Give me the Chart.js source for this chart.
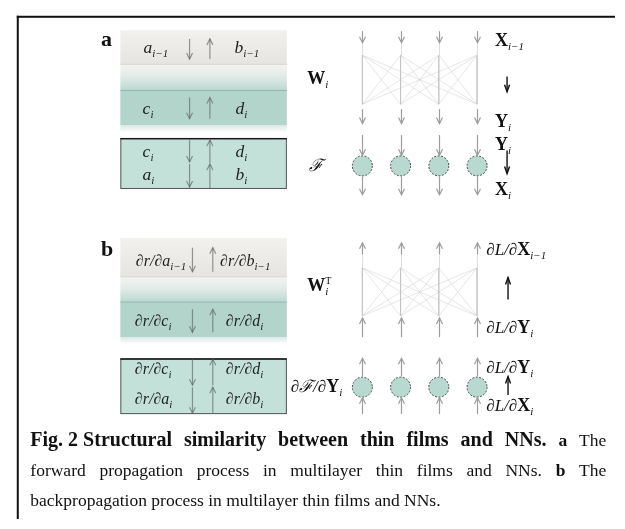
<!DOCTYPE html>
<html>
<head>
<meta charset="utf-8">
<script src="https://cdn.jsdelivr.net/npm/chart.js@4.4.1/dist/chart.umd.min.js"></script>
<style>
  html, body { margin: 0; padding: 0; background: #fff; }
  #wrap { width: 625px; height: 529px; }
</style>
</head>
<body>
<div id="wrap"><canvas id="chartFig2" width="625" height="529"></canvas></div>
<script>
// datos del diagrama
const panelLetters = ['a', 'b'];
const neurons = [1, 2, 3, 4];
const filmRowsForward = [
  ['a', 'i−1', 'b', 'i−1'],
  ['c', 'i', 'd', 'i'],
  ['c', 'i', 'd', 'i'],
  ['a', 'i', 'b', 'i']
];
const filmRowsBackward = [
  ['∂r/∂a', 'i−1', '∂r/∂b', 'i−1'],
  ['∂r/∂c', 'i', '∂r/∂d', 'i'],
  ['∂r/∂c', 'i', '∂r/∂d', 'i'],
  ['∂r/∂a', 'i', '∂r/∂b', 'i']
];
const nnLabelsForward = [['', 'X', 'i−1'], ['', 'Y', 'i'], ['', 'Y', 'i'], ['', 'X', 'i']];
const nnLabelsBackward = [['∂L/∂', 'X', 'i−1'], ['∂L/∂', 'Y', 'i'], ['∂L/∂', 'Y', 'i'], ['∂L/∂', 'X', 'i']];
// estilo de palabra: 2 = titulo en negrita, 1 = letra de panel en negrita, 0 = normal
const captionLines = [
  [['Fig. 2 Structural', 2], ['similarity', 2], ['between', 2], ['thin', 2], ['films', 2], ['and', 2], ['NNs.', 2], ['a', 1], ['The', 0]],
  [['forward', 0], ['propagation', 0], ['process', 0], ['in', 0], ['multilayer', 0], ['thin', 0], ['films', 0], ['and', 0], ['NNs.', 0], ['b', 1], ['The', 0]],
  [['backpropagation', 0], ['process', 0], ['in', 0], ['multilayer', 0], ['thin', 0], ['films', 0], ['and', 0], ['NNs.', 0]]
];

const SERIF = '"Liberation Serif", "Times New Roman", serif';

// posiciones del esquema (unidades del eje = px)
const nx = n => 364 + 39.5 * (n - 1);
const panelA = {
  gray: [21, 57], teal: [83, 120], stack: [133, 186],
  rows: [45, 108, 153, 177], leftX: [138, 137, 137, 137], rightX: [232, 233, 233, 233],
  links: [47, 98], cellY: 162
};
const panelB = {
  gray: [237, 278], teal: [303, 340], stack: [362, 420],
  rows: [266, 328, 378, 409], leftX: [130, 129, 129, 129], rightX: [217, 223, 223, 223],
  links: [268, 318], cellY: 392
};

// conexiones de la red y neuronas
const datasets = [];
[panelA, panelB].forEach(p => {
  neurons.forEach(i => neurons.forEach(j => {
    datasets.push({
      data: [{ x: nx(i), y: p.links[0] }, { x: nx(j), y: p.links[1] }],
      showLine: true,
      borderColor: i === j ? 'rgba(190,190,190,0.6)' : 'rgba(205,205,205,0.5)',
      borderWidth: 1,
      pointRadius: 0
    });
  }));
});
[panelA, panelB].forEach(p => {
  datasets.push({
    neuronLayer: true,
    data: neurons.map(n => ({ x: nx(n), y: p.cellY })),
    pointRadius: 10,
    pointBackgroundColor: '#b8d9cf',
    pointBorderWidth: 0,
    showLine: false
  });
});

function rich(ctx, x, y, parts) {
  let cx = x;
  parts.forEach(([t, font, dy]) => {
    ctx.font = font;
    ctx.fillText(t, cx, y + (dy || 0));
    cx += ctx.measureText(t).width;
  });
  return cx;
}

function arrow(ctx, x, y0, y1, color, lw, hl, hw) {
  ctx.save();
  ctx.strokeStyle = color;
  ctx.lineWidth = lw;
  ctx.beginPath();
  ctx.moveTo(x, y0);
  ctx.lineTo(x, y1);
  ctx.stroke();
  const d = Math.sign(y1 - y0);
  ctx.beginPath();
  ctx.moveTo(x - hw, y1 - d * hl);
  ctx.lineTo(x, y1);
  ctx.lineTo(x + hw, y1 - d * hl);
  ctx.stroke();
  ctx.restore();
}

const diagramPlugin = {
  id: 'diagram',
  beforeDatasetsDraw(chart) {
    const ctx = chart.ctx;
    const X = v => chart.scales.x.getPixelForValue(v);
    const Y = v => chart.scales.y.getPixelForValue(v);
    ctx.save();
    ctx.fillStyle = '#fff';
    ctx.fillRect(0, 0, chart.width, chart.height);
    // marco
    ctx.fillStyle = '#111';
    ctx.fillRect(X(7), Y(6), X(625) - X(7), 2);
    ctx.fillRect(X(7), Y(6), 2, Y(529) - Y(6));

    [panelA, panelB].forEach(p => {
      const x0 = X(114), x1 = X(286);
      // capa gris
      let g = ctx.createLinearGradient(0, Y(p.gray[0]), 0, Y(p.gray[1]));
      g.addColorStop(0, '#f2f1ee');
      g.addColorStop(1, '#e5e4e0');
      ctx.fillStyle = g;
      ctx.fillRect(x0, Y(p.gray[0]), x1 - x0, Y(p.gray[1]) - Y(p.gray[0]));
      ctx.fillStyle = '#d2d2ce';
      ctx.fillRect(x0, Y(p.gray[1]) - 1, x1 - x0, 1);
      // transicion
      g = ctx.createLinearGradient(0, Y(p.gray[1]), 0, Y(p.teal[0]));
      g.addColorStop(0, '#f3f3f1');
      g.addColorStop(0.45, '#e2ebe8');
      g.addColorStop(1, '#bcd9d1');
      ctx.fillStyle = g;
      ctx.fillRect(x0, Y(p.gray[1]), x1 - x0, Y(p.teal[0]) - Y(p.gray[1]));
      // capa verde
      ctx.fillStyle = '#b3d4cb';
      ctx.fillRect(x0, Y(p.teal[0]), x1 - x0, Y(p.teal[1]) - Y(p.teal[0]));
      ctx.fillStyle = '#8fb4ab';
      ctx.fillRect(x0, Y(p.teal[0]), x1 - x0, 1);
      g = ctx.createLinearGradient(0, Y(p.teal[1]), 0, Y(p.teal[1]) + 7);
      g.addColorStop(0, '#dbe8e5');
      g.addColorStop(1, '#ffffff');
      ctx.fillStyle = g;
      ctx.fillRect(x0, Y(p.teal[1]), x1 - x0, 7);
      // pila con borde
      ctx.fillStyle = '#c3e1d9';
      ctx.fillRect(x0, Y(p.stack[0]), x1 - x0, Y(p.stack[1]) - Y(p.stack[0]));
      ctx.strokeStyle = '#555';
      ctx.lineWidth = 1;
      ctx.strokeRect(x0 + 0.5, Y(p.stack[0]) + 0.5, x1 - x0 - 1, Y(p.stack[1]) - Y(p.stack[0]) - 1);
      ctx.fillStyle = '#1a1a1a';
      ctx.fillRect(x0, Y(p.stack[0]), x1 - x0, 1.5);
    });
    ctx.restore();
  },
  afterDatasetsDraw(chart) {
    const ctx = chart.ctx;
    const X = v => chart.scales.x.getPixelForValue(v);
    const Y = v => chart.scales.y.getPixelForValue(v);
    ctx.save();
    ctx.textBaseline = 'alphabetic';

    // bordes punteados de las neuronas
    chart.data.datasets.forEach((ds, i) => {
      if (!ds.neuronLayer) return;
      chart.getDatasetMeta(i).data.forEach(pt => {
        ctx.beginPath();
        ctx.setLineDash([2, 1.5]);
        ctx.strokeStyle = '#3d4a46';
        ctx.lineWidth = 1;
        ctx.arc(pt.x, pt.y, 10, 0, Math.PI * 2);
        ctx.stroke();
      });
    });
    ctx.setLineDash([]);

    // flechas dentro de las peliculas
    const filmCol = 'rgba(95,100,98,0.65)';
    const fa = [185.5, 206.5], fb = [188.5, 209.5];
    arrow(ctx, X(fa[0]), Y(30), Y(51), filmCol, 1.2, 6, 3);
    arrow(ctx, X(fa[1]), Y(51), Y(30), filmCol, 1.2, 6, 3);
    arrow(ctx, X(fa[0]), Y(91), Y(113), filmCol, 1.2, 6, 3);
    arrow(ctx, X(fa[1]), Y(113), Y(91), filmCol, 1.2, 6, 3);
    arrow(ctx, X(fa[0]), Y(134), Y(158), filmCol, 1.2, 6, 3);
    arrow(ctx, X(fa[0]), Y(160), Y(184), filmCol, 1.2, 6, 3);
    arrow(ctx, X(fa[1]), Y(185), Y(160), filmCol, 1.2, 6, 3);
    arrow(ctx, X(fa[1]), Y(159), Y(135), filmCol, 1.2, 6, 3);

    arrow(ctx, X(fb[0]), Y(247), Y(272), filmCol, 1.2, 6, 3);
    arrow(ctx, X(fb[1]), Y(272), Y(247), filmCol, 1.2, 6, 3);
    arrow(ctx, X(fb[0]), Y(311), Y(335), filmCol, 1.2, 6, 3);
    arrow(ctx, X(fb[1]), Y(335), Y(311), filmCol, 1.2, 6, 3);
    arrow(ctx, X(fb[0]), Y(363), Y(390), filmCol, 1.2, 6, 3);
    arrow(ctx, X(fb[0]), Y(392), Y(419), filmCol, 1.2, 6, 3);
    arrow(ctx, X(fb[1]), Y(419), Y(392), filmCol, 1.2, 6, 3);
    arrow(ctx, X(fb[1]), Y(390), Y(363), filmCol, 1.2, 6, 3);

    // flechas de la red
    const nnCol = '#9d9d9d';
    neurons.forEach(n => {
      const x = Math.round(X(nx(n))) + 0.5;
      ctx.strokeStyle = 'rgba(200,200,200,0.6)';
      ctx.lineWidth = 1;
      ctx.beginPath();
      ctx.moveTo(x, Y(34)); ctx.lineTo(x, Y(47));
      ctx.moveTo(x, Y(254)); ctx.lineTo(x, Y(268));
      ctx.stroke();
      [[22, 34], [103, 118], [130, 151], [173, 192]].forEach(([a, b]) => arrow(ctx, x, Y(a), Y(b), nnCol, 1.2, 6, 3));
      [[254, 242], [340, 320], [381, 362], [420, 403]].forEach(([a, b]) => arrow(ctx, x, Y(a), Y(b), nnCol, 1.2, 6, 3));
    });

    // flechas negras
    arrow(ctx, X(513.5), Y(69), Y(85), '#111', 1.4, 7, 2.5);
    arrow(ctx, X(513.5), Y(146), Y(170), '#111', 1.4, 7, 2.5);
    arrow(ctx, X(514.5), Y(301), Y(278), '#111', 1.4, 7, 2.5);
    arrow(ctx, X(514.5), Y(400), Y(381), '#111', 1.4, 7, 2.5);

    ctx.fillStyle = '#111';
    // letras de panel
    ctx.font = `bold 22px ${SERIF}`;
    ctx.fillText(panelLetters[0], X(94), Y(37));
    ctx.fillText(panelLetters[1], X(94), Y(256));

    // etiquetas de peliculas
    ctx.fillStyle = '#222';
    filmRowsForward.forEach((r, k) => {
      rich(ctx, X(panelA.leftX[k]), Y(panelA.rows[k]), [[r[0], `italic 17.5px ${SERIF}`], [r[1], `italic 11px ${SERIF}`, 4]]);
      rich(ctx, X(panelA.rightX[k]), Y(panelA.rows[k]), [[r[2], `italic 17.5px ${SERIF}`], [r[3], `italic 11px ${SERIF}`, 4]]);
    });
    filmRowsBackward.forEach((r, k) => {
      rich(ctx, X(panelB.leftX[k]), Y(panelB.rows[k]), [[r[0], `italic 16px ${SERIF}`], [r[1], `italic 11px ${SERIF}`, 4]]);
      rich(ctx, X(panelB.rightX[k]), Y(panelB.rows[k]), [[r[2], `italic 16px ${SERIF}`], [r[3], `italic 11px ${SERIF}`, 4]]);
    });

    // operadores
    ctx.fillStyle = '#111';
    rich(ctx, X(307), Y(77), [['W', `bold 18px ${SERIF}`], ['i', `italic 11px ${SERIF}`, 4]]);
    rich(ctx, X(309), Y(167), [['ℱ', `italic 17px ${SERIF}`]]);
    let wx = rich(ctx, X(307), Y(292), [['W', `bold 18px ${SERIF}`]]);
    ctx.font = `10px ${SERIF}`;
    ctx.fillText('T', wx, Y(292) - 7);
    ctx.font = `italic 11px ${SERIF}`;
    ctx.fillText('i', wx, Y(292) + 4);
    rich(ctx, X(290), Y(397), [['∂ℱ/∂', `italic 17px ${SERIF}`], ['Y', `bold 18px ${SERIF}`], ['i', `italic 11px ${SERIF}`, 4]]);

    // etiquetas de la red
    const fwdY = [37, 122, 145, 192];
    nnLabelsForward.forEach((l, k) => {
      rich(ctx, X(501), Y(fwdY[k]), [[l[1], `bold 18px ${SERIF}`], [l[2], `italic 11px ${SERIF}`, 4]]);
    });
    const bwdY = [255, 336, 377, 417];
    nnLabelsBackward.forEach((l, k) => {
      rich(ctx, X(492), Y(bwdY[k]), [[l[0], `italic 17px ${SERIF}`], [l[1], `bold 18px ${SERIF}`], [l[2], `italic 11px ${SERIF}`, 4]]);
    });

    // pie de figura justificado
    const capY = [453, 484, 515];
    const capFont = s => s === 2 ? `bold 20px ${SERIF}` : s === 1 ? `bold 17.5px ${SERIF}` : `17.5px ${SERIF}`;
    captionLines.forEach((tokens, k) => {
      const widths = tokens.map(([t, s]) => {
        ctx.font = capFont(s);
        return ctx.measureText(t).width;
      });
      const total = widths.reduce((sum, w) => sum + w, 0);
      ctx.font = capFont(0);
      const space = ctx.measureText(' ').width;
      const x0 = X(21), x1 = X(616);
      const gap = k < 2 ? (x1 - x0 - total) / (tokens.length - 1) : space;
      let cx = x0;
      tokens.forEach(([t, s], i) => {
        ctx.font = capFont(s);
        ctx.fillText(t, cx, Y(capY[k]));
        cx += widths[i] + gap;
      });
    });
    ctx.restore();
  }
};

const ctxFig = document.getElementById('chartFig2').getContext('2d');
const chartFig2 = new Chart(ctxFig, {
  type: 'scatter',
  data: { datasets: datasets },
  options: {
    responsive: false,
    animation: false,
    devicePixelRatio: 1,
    events: [],
    layout: { padding: 0 },
    scales: {
      x: { type: 'linear', min: 0, max: 625, display: false },
      y: { type: 'linear', min: 0, max: 529, reverse: true, display: false }
    },
    plugins: { legend: { display: false }, tooltip: { enabled: false } }
  },
  plugins: [diagramPlugin]
});
</script>
</body>
</html>
